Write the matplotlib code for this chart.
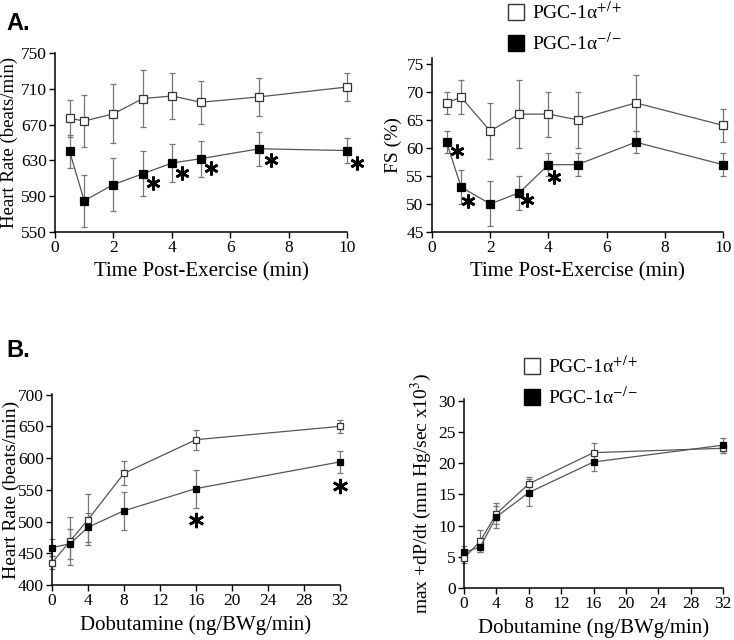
import matplotlib
matplotlib.use("Agg")
import matplotlib.pyplot as plt
from matplotlib.lines import Line2D
from matplotlib.transforms import offset_copy

plt.rcParams['font.family'] = ['Liberation Serif', 'DejaVu Serif']
plt.rcParams['mathtext.fontset'] = 'stix'

# ---- Panel A data: time post-exercise ----
time_min = [0.5, 1, 2, 3, 4, 5, 7, 10]
wt_hr = [677, 674, 682, 699, 702, 695, 701, 712]
wt_hr_err = [21, 29, 33, 32, 26, 24, 21, 16]
ko_hr = [640, 585, 603, 615, 627, 632, 643, 641]
ko_hr_err = [18, 29, 30, 25, 21, 20, 19, 14]
hr_sig_idx = [3, 4, 5, 6, 7]

wt_fs = [68, 69, 63, 66, 66, 65, 68, 64]
wt_fs_err = [2, 3, 5, 6, 4, 5, 5, 3]
ko_fs = [61, 53, 50, 52, 57, 57, 61, 57]
ko_fs_err = [2, 3, 4, 3, 2, 2, 2, 2]
fs_sig_idx = [0, 1, 3, 4]

# ---- Panel B data: dobutamine ----
dose = [0, 2, 4, 8, 16, 32]
wt_dhr = [435, 469, 503, 576, 629, 650]
wt_dhr_err = [10, 38, 40, 19, 16, 10]
ko_dhr = [459, 465, 491, 517, 552, 594]
ko_dhr_err = [13, 24, 23, 30, 30, 17]
dhr_sig_idx = [4, 5]

wt_dp = [4.8, 7.5, 11.9, 16.7, 21.7, 22.4]
wt_dp_err = [0.8, 1.8, 1.7, 1.1, 1.5, 0.8]
ko_dp = [5.7, 6.6, 11.4, 15.3, 20.2, 22.9]
ko_dp_err = [1.0, 0.8, 1.8, 2.1, 1.5, 1.2]

label_wt = 'PGC-1α$^{+/+}$'
label_ko = 'PGC-1α$^{-/-}$'

W, H = 734, 640
fig = plt.figure(figsize=(W / 100, H / 100), dpi=100)


def px_axes(x0, x1, ytop, ybot):
    return fig.add_axes([x0 / W, 1 - ybot / H, (x1 - x0) / W, (ybot - ytop) / H])


def style(ax, fs=12.5):
    for s in ['top', 'right']:
        ax.spines[s].set_visible(False)
    for s in ['left', 'bottom']:
        ax.spines[s].set_linewidth(1.1)
    ax.tick_params(direction='out', length=4, width=1, labelsize=fs, pad=2)


def draw(ax, x, wt, wte, ko, koe, ms):
    for y, e in ((wt, wte), (ko, koe)):
        cont = ax.errorbar(x, y, yerr=e, fmt='none', ecolor='#777777', elinewidth=0.9,
                           capsize=2.3, capthick=0.9, zorder=2)
        for art in cont.get_children():
            art.set_clip_on(False)
    ax.plot(x, wt, '-', color='#555555', lw=0.9, marker='s', ms=ms,
            mfc='white', mec='#333333', mew=0.9, zorder=3, clip_on=False)
    ax.plot(x, ko, '-', color='#555555', lw=0.9, marker='s', ms=ms,
            mfc='black', mec='black', mew=0.9, zorder=3, clip_on=False)


def stars(ax, x, y, idx, offsets, size=10):
    for i, (dx, dy) in zip(idx, offsets):
        tr = offset_copy(ax.transData, fig=fig, x=dx, y=dy, units='dots')
        ax.plot([x[i]], [y[i]], linestyle='none', marker=(6, 2, 0), ms=size,
                mew=1.9, color='black', transform=tr, clip_on=False, zorder=4)


# ---- A: heart rate ----
ax1 = px_axes(55, 347, 53, 232)
draw(ax1, time_min, wt_hr, wt_hr_err, ko_hr, ko_hr_err, 5.5)
ax1.set_xlim(0, 10)
ax1.set_ylim(550, 750)
ax1.set_xticks([0, 2, 4, 6, 8, 10])
ax1.set_yticks([550, 590, 630, 670, 710, 750])
style(ax1)
ax1.set_xlabel('Time Post-Exercise (min)', fontsize=15, labelpad=4)
ax1.set_ylabel('Heart Rate (beats/min)', fontsize=13.5, labelpad=2)
stars(ax1, time_min, ko_hr, hr_sig_idx, [(10, -9), (10, -10), (10, -9), (12, -11), (10, -12)])

# ---- A: FS ----
ax2 = px_axes(432, 723, 58, 232)
draw(ax2, time_min, wt_fs, wt_fs_err, ko_fs, ko_fs_err, 5.5)
ax2.set_xlim(0, 10)
ax2.set_ylim(45, 76)
ax2.set_xticks([0, 2, 4, 6, 8, 10])
ax2.set_yticks([45, 50, 55, 60, 65, 70, 75])
style(ax2)
ax2.set_xlabel('Time Post-Exercise (min)', fontsize=15, labelpad=4)
ax2.set_ylabel('FS (%)', fontsize=14, labelpad=3)
stars(ax2, time_min, ko_fs, fs_sig_idx, [(10, -9), (7, -14), (8, -7), (6, -12)])

# ---- B: heart rate vs dobutamine ----
ax3 = px_axes(52, 340, 394, 585)
draw(ax3, dose, wt_dhr, wt_dhr_err, ko_dhr, ko_dhr_err, 4.2)
ax3.set_xlim(0, 32)
ax3.set_ylim(400, 701)
ax3.set_xticks([0, 4, 8, 12, 16, 20, 24, 28, 32])
ax3.set_yticks([400, 450, 500, 550, 600, 650, 700])
style(ax3)
ax3.set_xlabel('Dobutamine (ng/BWg/min)', fontsize=15, labelpad=4)
ax3.set_ylabel('Heart Rate (beats/min)', fontsize=14)
ax3.yaxis.set_label_coords(-0.112, 0.5)
stars(ax3, dose, ko_dhr, dhr_sig_idx, [(0, -31), (0, -24)], size=11)

# ---- B: dP/dt ----
ax4 = px_axes(464, 723, 399, 588)
draw(ax4, dose, wt_dp, wt_dp_err, ko_dp, ko_dp_err, 4.2)
ax4.set_xlim(0, 32)
ax4.set_ylim(0, 30.3)
ax4.set_xticks([0, 4, 8, 12, 16, 20, 24, 28, 32])
ax4.set_yticks([0, 5, 10, 15, 20, 25, 30])
style(ax4)
ax4.set_xlabel('Dobutamine (ng/BWg/min)', fontsize=15, labelpad=4)
ax4.set_ylabel('max +dP/dt (mm Hg/sec x10$^{3}$)', fontsize=14, labelpad=3)

# ---- panel letters ----
fig.text(6 / W, 1 - 30 / H, 'A.', fontsize=17, fontweight='bold', family='Liberation Sans')
fig.text(6 / W, 1 - 357 / H, 'B.', fontsize=17, fontweight='bold', family='Liberation Sans')

# ---- legends ----
h_wt = Line2D([], [], linestyle='none', marker='s', ms=11, mfc='white', mec='#333333', mew=1)
h_ko = Line2D([], [], linestyle='none', marker='s', ms=11, mfc='black', mec='black', mew=1)
fig.legend([h_wt, h_ko], [label_wt, label_ko], loc='upper left',
           bbox_to_anchor=(497 / W, 1 + 9 / H), frameon=False, fontsize=14,
           handlelength=1.0, handletextpad=0.3, labelspacing=0.48, borderpad=0)
fig.legend([h_wt, h_ko], [label_wt, label_ko], loc='upper left',
           bbox_to_anchor=(513 / W, 1 - 345 / H), frameon=False, fontsize=14,
           handlelength=1.0, handletextpad=0.3, labelspacing=0.48, borderpad=0)

fig.savefig('out.png', dpi=100)
